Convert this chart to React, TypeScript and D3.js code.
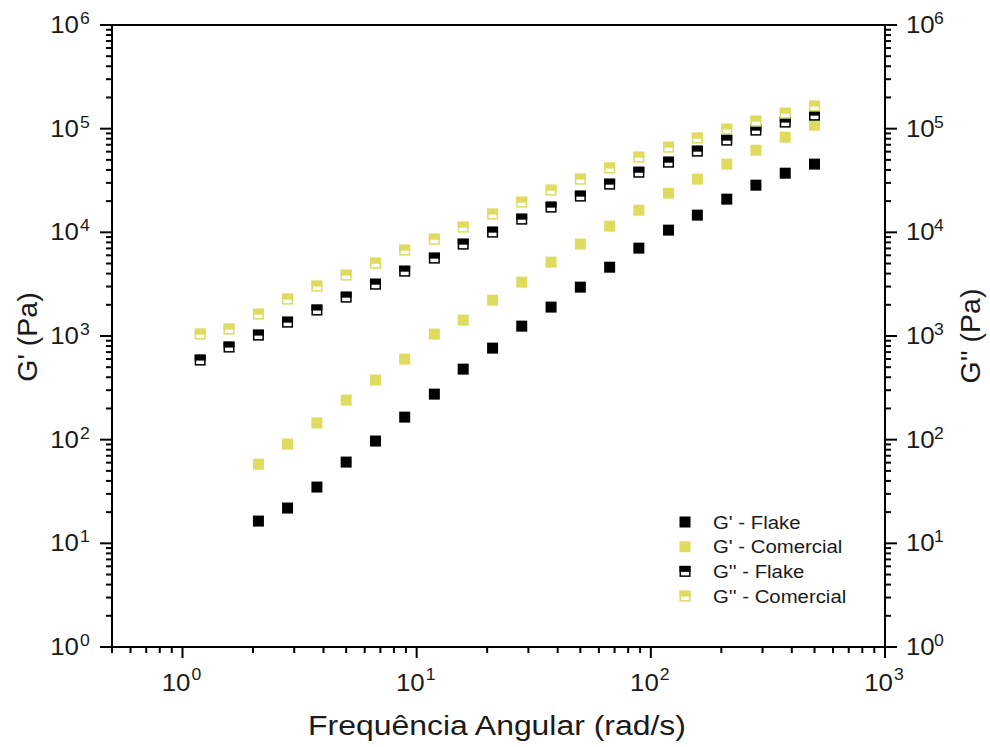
import React from "react";
import * as d3 from "d3";

const freq = [500, 375, 281, 211, 158, 119, 88.9, 66.7, 50.0, 37.5, 28.1, 21.1, 15.8, 11.9, 8.89, 6.67, 5.0, 3.75, 2.81, 2.11, 1.58, 1.19];
const gpFlake = [45500, 37200, 28500, 20900, 14650, 10500, 7040, 4610, 2960, 1900, 1245, 764, 479, 275, 165, 97, 60.8, 34.9, 21.9, 16.4];
const gpCom = [108000, 82800, 62000, 45500, 32600, 23860, 16350, 11480, 7700, 5160, 3310, 2218, 1423, 1043, 598, 376, 241, 145, 90.7, 58];
const gppFlake = [135000, 115700, 96800, 77500, 60700, 47500, 38000, 29150, 22350, 17500, 13400, 10040, 7690, 5640, 4220, 3160, 2370, 1780, 1360, 1020, 782, 586];
const gppCom = [165000, 141000, 118000, 98900, 81100, 66300, 53100, 41700, 32600, 25500, 19550, 15000, 11220, 8590, 6730, 5040, 3865, 3030, 2270, 1625, 1166, 1043];
const seriesNames = ["G' - Flake", "G' - Comercial", "G'' - Flake", "G'' - Comercial"];
const xMajor = [0, 1, 2, 3];
const yMajor = [0, 1, 2, 3, 4, 5, 6];

const BLACK = "#000000";
const YELLOW = "#DEDB5E";
const TXT = "#1a1a1a";

const L = 112, R = 885, T = 25, B = 647;
const FONT = "Liberation Sans, Arial, sans-serif";

function SText({ x, y, sx = 1, anchor = "start", size, children }: any) {
  return (
    <text transform={`translate(${x},${y}) scale(${sx},1)`} textAnchor={anchor} fontSize={size} fill={TXT}>
      {children}
    </text>
  );
}

function Marker({ x, y, color, half }: { x: number; y: number; color: string; half: boolean }) {
  const s = 11;
  if (!half) return <rect x={x - s / 2} y={y - s / 2} width={s} height={s} fill={color} />;
  return (
    <g>
      <rect x={x - s / 2 + 0.75} y={y - s / 2 + 0.75} width={s - 1.5} height={s - 1.5} fill="#fff" stroke={color} strokeWidth={1.5} />
      <rect x={x - s / 2} y={y - s / 2} width={s} height={s / 2 + 0.5} fill={color} />
    </g>
  );
}

export default function App() {
  const x = d3.scaleLog().domain([0.5, 1000]).range([L, R]);
  const y = d3.scaleLog().domain([1, 1e6]).range([B, T]);

  const xMinor: number[] = [];
  for (let e = -1; e < 3; e++) for (let m = 2; m <= 9; m++) { const v = m * Math.pow(10, e); if (v >= 0.5 && v <= 1000) xMinor.push(v); }
  const yMinor: number[] = [];
  for (let e = 0; e < 6; e++) for (let m = 2; m <= 9; m++) yMinor.push(m * Math.pow(10, e));

  const series = [
    { data: gpFlake, color: BLACK, half: false },
    { data: gpCom, color: YELLOW, half: false },
    { data: gppFlake, color: BLACK, half: true },
    { data: gppCom, color: YELLOW, half: true },
  ];

  const tickFs = 23.5, supFs = 16, tsx = 1.1;

  return (
    <svg width={990} height={747} style={{ display: "block", position: "absolute", left: 0, top: 0 }} fontFamily={FONT}>
      <rect width={990} height={747} fill="#fff" />
      {xMinor.map((v, i) => (
        <line key={"xm" + i} x1={x(v)} x2={x(v)} y1={B} y2={B + 6} stroke="#000" strokeWidth={2} />
      ))}
      {xMajor.map((e) => (
        <line key={"xM" + e} x1={x(Math.pow(10, e))} x2={x(Math.pow(10, e))} y1={B} y2={B + 11} stroke="#000" strokeWidth={2} />
      ))}
      {yMinor.map((v, i) => (
        <g key={"ym" + i}>
          <line x1={L - 6} x2={L} y1={y(v)} y2={y(v)} stroke="#000" strokeWidth={2} />
          <line x1={R} x2={R + 6} y1={y(v)} y2={y(v)} stroke="#000" strokeWidth={2} />
        </g>
      ))}
      {yMajor.map((e) => (
        <g key={"yM" + e}>
          <line x1={L - 12} x2={L} y1={y(Math.pow(10, e))} y2={y(Math.pow(10, e))} stroke="#000" strokeWidth={2} />
          <line x1={R} x2={R + 12} y1={y(Math.pow(10, e))} y2={y(Math.pow(10, e))} stroke="#000" strokeWidth={2} />
        </g>
      ))}
      <rect x={L} y={T} width={R - L} height={B - T} fill="none" stroke="#000" strokeWidth={2} />

      {yMajor.map((e) => {
        const ty = y(Math.pow(10, e));
        return (
          <g key={"yl" + e}>
            <SText x={79} y={ty + 8} sx={tsx} anchor="end" size={tickFs}>10</SText>
            <SText x={80} y={ty - 1} sx={tsx} size={supFs}>{e}</SText>
            <SText x={906} y={ty + 8} sx={tsx} size={tickFs}>10</SText>
            <SText x={934} y={ty - 1} sx={tsx} size={supFs}>{e}</SText>
          </g>
        );
      })}
      {xMajor.map((e) => {
        const tx = x(Math.pow(10, e));
        return (
          <g key={"xl" + e}>
            <SText x={tx + 8} y={691} sx={tsx} anchor="end" size={tickFs}>10</SText>
            <SText x={tx + 9} y={680} sx={tsx} size={supFs}>{e}</SText>
          </g>
        );
      })}

      <SText x={497} y={735} sx={1.14} anchor="middle" size={28}>Frequência Angular (rad/s)</SText>
      <text transform={`translate(37,337) rotate(-90)`} textAnchor="middle" fontSize={28.5} fill={TXT}>G' (Pa)</text>
      <text transform={`translate(980,336) rotate(-90)`} textAnchor="middle" fontSize={28.5} fill={TXT}>G'' (Pa)</text>

      {series.map((s, si) => (
        <g key={"s" + si}>
          {s.data.map((v, i) => (
            <Marker key={i} x={x(freq[i])} y={y(v)} color={s.color} half={s.half} />
          ))}
        </g>
      ))}

      {seriesNames.map((n, i) => (
        <g key={"lg" + i}>
          <Marker x={685} y={522 + i * 24.7} color={series[i].color} half={series[i].half} />
          <SText x={713} y={522 + i * 24.7 + 6.5} sx={1.1} size={18.5}>{n}</SText>
        </g>
      ))}
    </svg>
  );
}
